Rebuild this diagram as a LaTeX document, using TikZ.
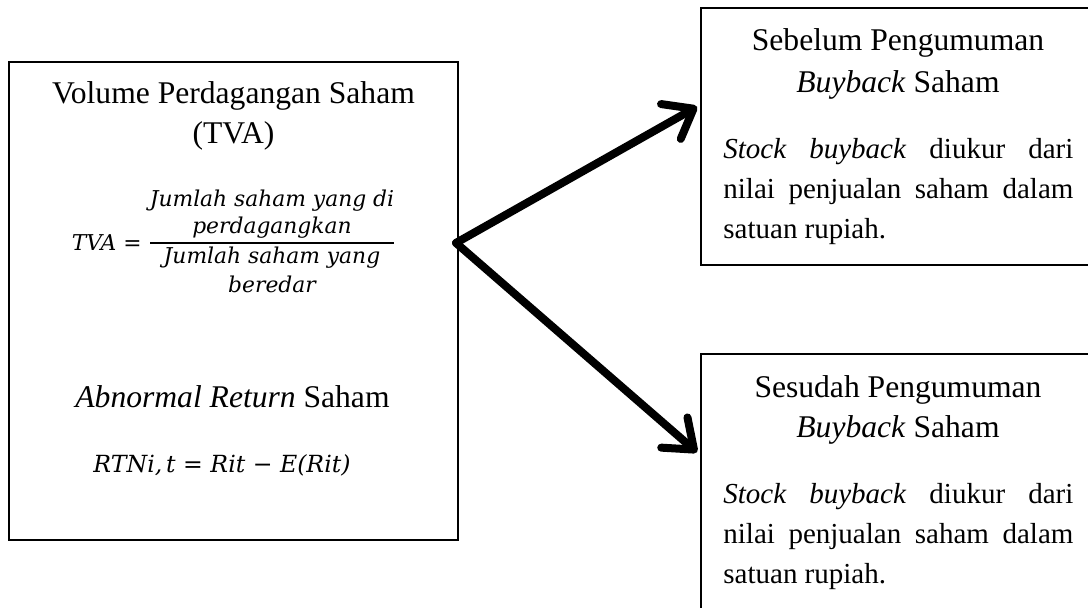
\documentclass[tikz,border=0pt]{standalone}
\usepackage{fontspec}
\setmainfont{Liberation Serif}
\newfontfamily\mathfnt{DejaVu Serif}
\usetikzlibrary{arrows.meta,calc}
\begin{document}
\begin{tikzpicture}[x=0.5pt,y=-0.5pt,
  box/.style={draw=black, line width=1pt, inner sep=0pt},
  ttl/.style={anchor=base, inner sep=0pt, font=\fontsize{15.8pt}{20pt}\selectfont},
  frm/.style={anchor=base, inner sep=0pt, font=\mathfnt\itshape\fontsize{10.9pt}{13pt}\selectfont},
  para/.style={anchor=base west, inner sep=0pt, text width=175pt, align=justify,
    font=\fontsize{14.5pt}{20pt}\selectfont},
  flow/.style={line width=4pt, line cap=round, line join=round,
    -{Straight Barb[length=13pt,width=20pt,round]}},
  fracbar/.style={line width=0.7pt}]
\useasboundingbox (0,0) rectangle (1088,607);
\clip (0,0) rectangle (1088,607);
% boxes
\node[box, minimum width=224.5pt, minimum height=239pt] (left) at (233.5,301) {};
\node[box, minimum width=197pt, minimum height=128.5pt] (top) at (898,136.5) {};
\node[box, minimum width=197pt, minimum height=128.5pt] (bot) at (898,482.5) {};
% left box content
\node[ttl] (lt1) at (233.5,103) {Volume Perdagangan Saham};
\node[ttl] (lt2) at (233.5,143) {(TVA)};
\node[frm, anchor=base east] (tva) at (142,250) {TVA {\upshape =}};
\node[frm] (num1) at (272,206) {Jumlah saham yang di};
\node[frm] (num2) at (272,233) {perdagangkan};
\node[frm] (den1) at (272,263) {Jumlah saham yang};
\node[frm] (den2) at (272,292) {beredar};
\coordinate (barL) at (150,243);
\coordinate (barR) at (394,243);
\draw[fracbar] (barL) -- (barR);
\node[ttl] (ab) at (232.5,407) {\textit{Abnormal Return} Saham};
\node[frm, font=\mathfnt\itshape\fontsize{11.8pt}{14pt}\selectfont] (rtn) at (222,472) {RTNi,\,t {\upshape =} Rit {\upshape −} E(Rit)};
% top right content
\node[ttl] (tt1) at (898,50) {Sebelum Pengumuman};
\node[ttl] (tt2) at (898,92) {\textit{Buyback} Saham};
\node[para] (tp) at (723,158) {\textit{Stock buyback} diukur dari\linebreak nilai penjualan saham dalam\linebreak satuan rupiah.};
% bottom right content
\node[ttl] (bt1) at (898,397) {Sesudah Pengumuman};
\node[ttl] (bt2) at (898,437) {\textit{Buyback} Saham};
\node[para] (bp) at (723,503) {\textit{Stock buyback} diukur dari\linebreak nilai penjualan saham dalam\linebreak satuan rupiah.};
% arrows
\coordinate (fork) at ($(left.north east)!0.379!(left.south east)+(-3,0)$);
\draw[flow] (fork) -- ($(top.north west)!0.385!(top.south west)+(-3,0)$);
\draw[flow] (fork) -- ($(bot.north west)!0.383!(bot.south west)+(-3,0)$);
\end{tikzpicture}
\end{document}
